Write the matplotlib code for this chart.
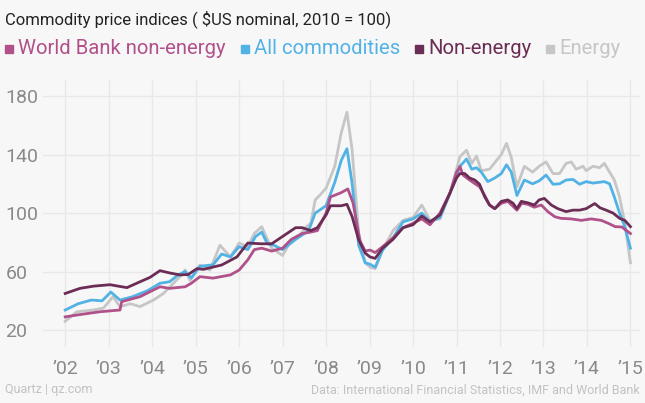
import matplotlib
matplotlib.use("Agg")
import matplotlib.pyplot as plt
from matplotlib.patches import Rectangle

plt.rcParams['font.family'] = ['Roboto', 'DejaVu Sans']

# Series (decimal years, index 2010 = 100)
energy_x = [2002.0, 2002.27, 2002.65, 2002.88, 2003.1, 2003.26, 2003.5, 2003.72, 2004.03, 2004.26,
            2004.41, 2004.64, 2004.76, 2004.87, 2005.1, 2005.33, 2005.56, 2005.8, 2006.0, 2006.2,
            2006.35, 2006.52, 2006.65, 2006.75, 2007.0, 2007.15, 2007.4, 2007.55, 2007.65, 2007.75,
            2007.85, 2008.0, 2008.2, 2008.35, 2008.48, 2008.6, 2008.75, 2008.9, 2009.01, 2009.13,
            2009.3, 2009.54, 2009.77, 2010.0, 2010.2, 2010.39, 2010.62, 2010.85, 2011.08, 2011.23,
            2011.35, 2011.46, 2011.57, 2011.76, 2011.92, 2012.03, 2012.15, 2012.26, 2012.39, 2012.56,
            2012.75, 2012.9, 2013.06, 2013.22, 2013.37, 2013.52, 2013.64, 2013.75, 2013.91, 2013.98,
            2014.14, 2014.29, 2014.4, 2014.52, 2014.63, 2014.75, 2014.87, 2015.0]
energy_y = [26, 32.5, 33.7, 35, 42.8, 36, 38, 36, 40.5, 45,
            49.6, 56.5, 61, 54, 64.5, 61, 78, 70, 79.5, 77,
            86, 90.7, 82, 76, 71, 79, 85, 90.7, 93, 109,
            112, 117, 132, 155, 169, 143, 86, 66, 63, 62,
            74.7, 88, 95, 97, 105.5, 95, 96, 113.7, 138.6, 143,
            134, 139, 129, 130, 136, 140, 147.7, 138, 118, 132,
            128, 132, 135, 127, 127, 134, 135, 130, 132, 129,
            132, 131, 134, 128, 122.6, 111, 93, 66]

allcom_x = [2002.0, 2002.3, 2002.6, 2002.85, 2003.05, 2003.26, 2003.55, 2003.9, 2004.18, 2004.4,
            2004.6, 2004.76, 2004.9, 2005.1, 2005.4, 2005.6, 2005.8, 2006.0, 2006.2, 2006.38,
            2006.52, 2006.65, 2006.8, 2007.0, 2007.3, 2007.6, 2007.75, 2008.0, 2008.2, 2008.35,
            2008.48, 2008.6, 2008.75, 2008.9, 2009.01, 2009.13, 2009.3, 2009.54, 2009.77, 2010.0,
            2010.2, 2010.39, 2010.62, 2010.85, 2011.08, 2011.23, 2011.35, 2011.46, 2011.57, 2011.72,
            2011.88, 2012.03, 2012.15, 2012.26, 2012.39, 2012.56, 2012.75, 2012.9, 2013.06, 2013.22,
            2013.37, 2013.52, 2013.68, 2013.83, 2013.98, 2014.14, 2014.4, 2014.52, 2014.63, 2014.75,
            2014.87, 2015.0]
allcom_y = [33.7, 38, 40.5, 40, 46, 40.5, 42.8, 47, 52, 53,
            57.7, 60, 55.5, 63.6, 64.6, 72, 70, 77, 75, 84,
            87, 79, 78, 75, 82, 88, 100, 105, 121, 136,
            144, 120, 78, 66, 65, 63, 74.7, 83, 94, 96,
            100, 94, 97, 113.7, 132, 137, 130, 131, 128, 121.5,
            124, 127, 133, 128, 112, 122.6, 120, 122, 126, 119.7,
            120, 122.6, 123, 119.7, 121.5, 120.5, 121.5, 120, 111, 100,
            90.7, 76]

nonen_x = [2002.0, 2002.34, 2002.65, 2003.03, 2003.42, 2003.72, 2003.95, 2004.18, 2004.41, 2004.64,
           2004.83, 2005.03, 2005.18, 2005.6, 2005.95, 2006.2, 2006.5, 2006.75, 2007.0, 2007.3,
           2007.45, 2007.65, 2007.8, 2008.0, 2008.1, 2008.35, 2008.48, 2008.6, 2008.75, 2008.9,
           2009.01, 2009.13, 2009.3, 2009.54, 2009.77, 2010.0, 2010.2, 2010.39, 2010.62, 2010.85,
           2011.0, 2011.08, 2011.19, 2011.3, 2011.42, 2011.53, 2011.65, 2011.76, 2011.88, 2012.03,
           2012.18, 2012.3, 2012.39, 2012.49, 2012.64, 2012.79, 2012.9, 2013.02, 2013.18, 2013.33,
           2013.52, 2013.68, 2013.83, 2013.98, 2014.18, 2014.3, 2014.44, 2014.6, 2014.75, 2014.87,
           2015.0]
nonen_y = [45, 48.5, 50, 51, 49, 53, 56, 60.6, 59, 57.7,
           58, 62, 61.5, 64.5, 70, 79.5, 79, 79, 84, 90,
           90, 88, 90, 98.7, 105, 105, 106, 97.5, 81.6, 72.6,
           70, 69, 76, 82, 90, 92, 98, 94, 98.7, 113.7,
           124, 127, 127, 124, 122.6, 119.7, 111, 105.5, 103, 108,
           109, 106.7, 103, 108, 107, 105.5, 109, 110, 105.5, 103,
           101, 102, 102, 103, 106.5, 103.6, 102, 100, 96.4, 95,
           90.7]

wb_x = [2002.0, 2002.3, 2002.8, 2003.26, 2003.3, 2003.72, 2004.18, 2004.4, 2004.76, 2004.9,
        2005.1, 2005.4, 2005.8, 2006.0, 2006.2, 2006.35, 2006.52, 2006.75, 2007.0, 2007.2,
        2007.45, 2007.65, 2007.8, 2008.0, 2008.1, 2008.35, 2008.5, 2008.62, 2008.78, 2008.9,
        2009.01, 2009.13, 2009.3, 2009.54, 2009.77, 2010.0, 2010.2, 2010.39, 2010.62, 2010.85,
        2011.0, 2011.08, 2011.15, 2011.3, 2011.53, 2011.65, 2011.76, 2011.88, 2012.03, 2012.18,
        2012.39, 2012.5, 2012.64, 2012.79, 2012.95, 2013.1, 2013.26, 2013.4, 2013.64, 2013.87,
        2014.1, 2014.33, 2014.49, 2014.65, 2014.8, 2015.0]
wb_y = [29, 30.4, 32.5, 33.7, 39.4, 42.8, 49.6, 48.5, 49.6, 52,
        56.5, 55.5, 57.7, 61, 68, 75, 76, 74, 76, 82,
        86, 87, 88, 100, 111, 114, 116.5, 107, 81, 74,
        74.7, 73, 77, 83, 90, 93, 96, 92, 100, 113.7,
        128, 131.8, 126, 122.6, 118, 112, 105.5, 103, 106.7, 108,
        102, 106.7, 106, 104, 105.5, 101, 97.5, 96.4, 96, 95,
        96, 95, 93, 90.7, 90.5, 86]

labels = ["World Bank non-energy", "All commodities", "Non-energy", "Energy"]
colors = ["#b0518a", "#51b2e5", "#6b2d55", "#c6c6c6"]
year_ticks = list(range(2002, 2016))
year_labels = ["\u2019%02d" % (y % 100) for y in year_ticks]
y_ticks = [20, 60, 100, 140, 180]

bg = "#f7f7f7"
W, H = 645.0, 403.0

fig = plt.figure(figsize=(6.45, 4.03), dpi=100, facecolor=bg)
ax = fig.add_axes([43 / W, 1 - 347 / H, (640 - 43) / W, (347 - 80) / H])
ax.set_facecolor(bg)

series = [(wb_x, wb_y), (allcom_x, allcom_y), (nonen_x, nonen_y), (energy_x, energy_y)]
# grey first so the coloured lines sit on it
for i in [3, 1, 0, 2]:
    xs, ys = series[i]
    ax.plot(xs, ys, color=colors[i], lw=2.0, solid_joinstyle="round", zorder=3)

ax.set_xlim(2001.49, 2015.22)
ax.set_ylim(8.4, 191)
ax.set_xticks(year_ticks)
ax.set_xticklabels(year_labels)
ax.set_yticks(y_ticks)
ax.grid(True, color="#e8e8e8", lw=1, zorder=0)
for s in ax.spines.values():
    s.set_visible(False)
ax.tick_params(axis="x", length=0, pad=9, labelsize=14, labelcolor="#8a8a8a")
ax.tick_params(axis="y", length=0, pad=27, labelsize=14, labelcolor="#8a8a8a")
for t in ax.get_yticklabels():
    t.set_horizontalalignment("left")

fig.text(5 / W, 1 - 19 / H, "Commodity price indices ( $US nominal, 2010 = 100)",
         fontsize=12, color="#222222", va="center", ha="left")

# legend row
renderer = fig.canvas.get_renderer()
x0 = 5.0
for lab, col in zip(labels, colors):
    fig.patches.append(Rectangle((x0 / W, 1 - 53 / H), 8 / W, 8 / H, color=col,
                                 transform=fig.transFigure, figure=fig))
    t = fig.text((x0 + 13) / W, 1 - 49 / H, lab, fontsize=14.6, color=col,
                 va="center", ha="left")
    bb = t.get_window_extent(renderer)
    x0 = bb.x1 + 15

fig.text(5 / W, 1 - 390 / H, "Quartz | qz.com", fontsize=9, color="#c2c2c2",
         va="center", ha="left")
fig.text(640 / W, 1 - 390 / H, "Data: International Financial Statistics, IMF and World Bank",
         fontsize=9, color="#c2c2c2", va="center", ha="right")

fig.savefig("out.png", dpi=100, facecolor=bg)
